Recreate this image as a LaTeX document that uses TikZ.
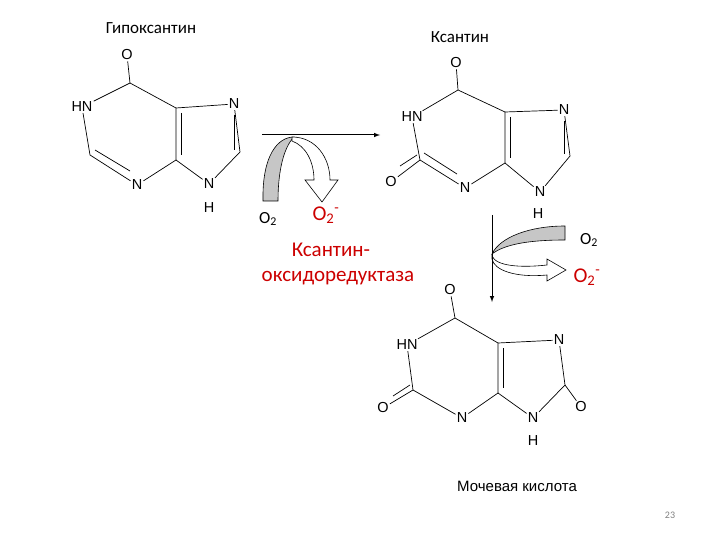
\documentclass[tikz,border=0pt]{standalone}
\usepackage{fontspec}
\setmainfont{Carlito}
\newfontfamily\atomf{Liberation Sans}
\begin{document}
\begin{tikzpicture}[x=1pt,y=-1pt,
 atm/.style={font=\atomf\fontsize{14.5}{15}\selectfont, inner sep=1pt},
 bd/.style={line width=0.7pt},
 lbl/.style={font=\fontsize{17}{18}\selectfont},
 rtxt/.style={text=red!80!black},
 band/.style={fill=gray!45,draw=black,line width=0.6pt},
 hollow/.style={fill=white,draw=black,line width=0.6pt}]
\useasboundingbox (0,0) rectangle (720,540);
% ---- Hypoxanthine
\node[atm] (aO) at (127,55) {O};
\coordinate (a6) at (130,83);
\node[atm] (a1) at (82,107) {HN};
\coordinate (a2) at (90,155);
\node[atm] (a3) at (137,185) {N};
\coordinate (a4) at (176,160);
\coordinate (a5) at (176,108);
\node[atm] (a7) at (234,104) {N};
\coordinate (a8) at (240,152);
\node[atm] (a9) at (209,184) {N};
\node[atm] (a9H) at (209,208) {H};
\draw[bd] (aO) -- (a6) -- (a1) -- (a2) -- (a3) -- (a4) -- (a5) -- (a6);
\draw[bd] (a5) -- (a7) -- (a8) -- (a9) -- (a4);
\draw[bd] (95,150) -- (130,171);
\draw[bd] (181,113) -- (181,155);
\draw[bd] (234,115) -- (234,150);
% ---- Xanthine
\node[atm] (bO) at (456,63) {O};
\coordinate (b6) at (458,90);
\node[atm] (b1) at (412,117) {HN};
\coordinate (b2) at (420,160);
\node[atm] (bO2) at (391,182) {O};
\node[atm] (b3) at (465,188) {N};
\coordinate (b4) at (505,163);
\coordinate (b5) at (505,112);
\node[atm] (b7) at (564,110) {N};
\coordinate (b8) at (570,156);
\node[atm] (b9) at (540,192) {N};
\node[atm] (b9H) at (538,214) {H};
\draw[bd] (bO) -- (b6) -- (b1) -- (b2) -- (b3) -- (b4) -- (b5) -- (b6);
\draw[bd] (b5) -- (b7) -- (b8) -- (b9) -- (b4);
\draw[bd] (b2) -- (bO2);
\draw[bd] (417,155) -- (400,166);
\draw[bd] (424,153) -- (457,174);
\draw[bd] (510,117) -- (510,158);
\draw[bd] (564,121) -- (564,154);
% ---- Uric acid
\node[atm] (cO) at (450,290) {O};
\coordinate (c6) at (455,318);
\node[atm] (c1) at (407,345) {HN};
\coordinate (c2) at (413,390);
\node[atm] (cO2) at (383,408) {O};
\node[atm] (c3) at (462,418) {N};
\coordinate (c4) at (498,393);
\coordinate (c5) at (498,343);
\node[atm] (c7) at (559,340) {N};
\coordinate (c8) at (565,385);
\node[atm] (cO8) at (581,407) {O};
\node[atm] (c9) at (533,418) {N};
\node[atm] (c9H) at (533,441) {H};
\draw[bd] (cO) -- (c6) -- (c1) -- (c2) -- (c3) -- (c4) -- (c5) -- (c6);
\draw[bd] (c5) -- (c7) -- (c8) -- (c9) -- (c4);
\draw[bd] (c2) -- (cO2);
\draw[bd] (410,385) -- (393,396);
\draw[bd] (c8) -- (cO8);
\draw[bd] (503,348) -- (503,388);
% ---- reaction 1
\coordinate (r1s) at (262,135);
\coordinate (r1e) at (380,135);
\draw[band] (263,201) .. controls (262,155) and (278,137) .. (294,137)
  .. controls (284,147) and (278,170) .. (278,201) -- cycle;
\draw[hollow] (292,137) .. controls (316,137) and (330,158) .. (330,180) -- (338,180) -- (322,202)
  -- (305,180) -- (314,180) .. controls (314,162) and (306,146) .. (292,141) -- cycle;
\draw[line width=1pt,-latex] (r1s) -- (r1e);
\node[lbl] (o2a) at (268,219) {O\textsubscript{2}};
\node[rtxt,font=\fontsize{21}{22}\selectfont] (o2ma) at (326,215) {O\textsubscript{2}\textsuperscript{-}};
\node[rtxt,font=\fontsize{21}{22}\selectfont] (enz1) at (331,250) {Ксантин-};
\node[rtxt,font=\fontsize{21}{22}\selectfont] (enz2) at (338,278) {оксидоредуктаза};
% ---- reaction 2
\coordinate (r2s) at (492,215);
\coordinate (r2e) at (492,302);
\draw[band] (565,226) -- (565,240) .. controls (530,240) and (505,244) .. (492,254)
  .. controls (500,237) and (530,226) .. (565,226) -- cycle;
\draw[hollow] (492,256) .. controls (496,266) and (520,268) .. (547,265) -- (547,259) -- (566,270)
  -- (547,281) -- (547,275) .. controls (515,278) and (494,270) .. (492,259) -- cycle;
\draw[line width=1pt,-latex] (r2s) -- (r2e);
\node[lbl] (o2b) at (589,240) {O\textsubscript{2}};
\node[rtxt,font=\fontsize{21}{22}\selectfont] (o2mb) at (587,277) {O\textsubscript{2}\textsuperscript{-}};
% ---- titles
\node[lbl] (t1) at (151,28) {Гипоксантин};
\node[lbl] (t2) at (460,37) {Ксантин};
\node[font=\atomf\fontsize{15}{16}\selectfont] (t3) at (517,486) {Мочевая кислота};
\node[font=\fontsize{10}{10}\selectfont,text=gray] (pg) at (670,515) {23};
\end{tikzpicture}
\end{document}
